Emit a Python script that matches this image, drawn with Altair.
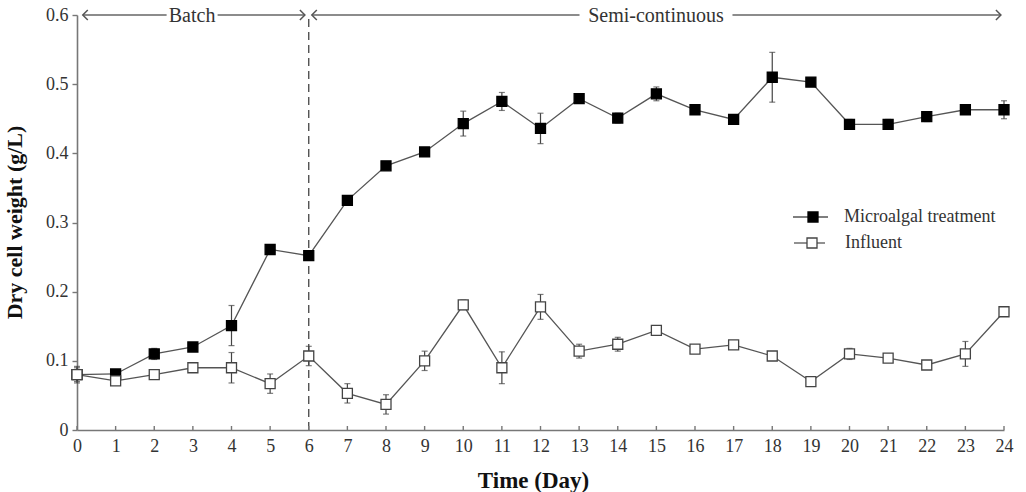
import altair as alt
import pandas as pd

# ---------------- data ----------------
days = list(range(25))
micro = [0.080, 0.081, 0.110, 0.120, 0.151, 0.261, 0.252, 0.332, 0.382, 0.402,
         0.443, 0.475, 0.436, 0.479, 0.451, 0.486, 0.463, 0.449, 0.510, 0.503,
         0.442, 0.442, 0.453, 0.463, 0.463]
micro_err = [0.010, 0.004, 0.008, 0.004, 0.029, 0.006, 0.006, 0.006, 0.006, 0.006,
             0.018, 0.013, 0.022, 0.004, 0.007, 0.010, 0.003, 0.003, 0.036, 0.006,
             0.007, 0.007, 0.007, 0.004, 0.013]
influ = [0.080, 0.071, 0.080, 0.090, 0.090, 0.067, 0.107, 0.053, 0.037, 0.100,
         0.181, 0.090, 0.178, 0.114, 0.124, 0.144, 0.117, 0.123, 0.107, 0.070,
         0.110, 0.104, 0.094, 0.110, 0.171]
influ_err = [0.012, 0.005, 0.003, 0.003, 0.022, 0.014, 0.014, 0.014, 0.014, 0.014,
             0.007, 0.023, 0.018, 0.010, 0.010, 0.004, 0.003, 0.003, 0.003, 0.003,
             0.008, 0.003, 0.003, 0.018, 0.004]
series_names = ["Microalgal treatment", "Influent"]
y_ticks = [0, 0.1, 0.2, 0.3, 0.4, 0.5, 0.6]

# phase annotations (x in days, at y = 0.6)
phase_labels = ["Batch", "Semi-continuous"]
phase_label_x = [2.98, 14.99]
phase_seg_start = [0.15, 3.64, 6.08, 16.97]
phase_seg_end = [2.32, 5.90, 13.01, 23.92]
arrow_left_x = [0.15, 6.08]
arrow_right_x = [5.90, 23.92]
switch_day = [6]

FONT = "Liberation Serif"
W, H = 927, 415
LINE = "#555555"

rows = []
for d, v, e in zip(days, micro, micro_err):
    rows.append({"day": d, "value": v, "lo": v - e, "hi": v + e, "series": series_names[0]})
for d, v, e in zip(days, influ, influ_err):
    rows.append({"day": d, "value": v, "lo": v - e, "hi": v + e, "series": series_names[1]})
df = pd.DataFrame(rows)

xs = alt.Scale(domain=[0, 24], nice=False, zero=False)
ys = alt.Scale(domain=[0, 0.6], nice=False)

x_axis = alt.Axis(values=days, tickSize=0, labelFont=FONT, labelFontSize=18,
                  labelColor="#333333", labelPadding=7, labelOverlap=False, labelFlush=False,
                  domainColor="#777777",
                  domainWidth=1.6, grid=False, title="Time (Day)", titleFont=FONT,
                  titleFontSize=23, titleFontWeight="bold", titleColor="#111111",
                  titleX=456, titleY=57, titleBaseline="alphabetic", titleAlign="center")
y_axis = alt.Axis(values=y_ticks, tickSize=5, tickColor="#777777", tickWidth=1.4,
                  labelFont=FONT, labelFontSize=18, labelColor="#333333", labelPadding=4,
                  labelOverlap=False, labelFlush=False,
                  labelExpr="datum.value == 0 ? '0' : format(datum.value, '.1f')",
                  domainColor="#777777", domainWidth=1.6, grid=False,
                  title="Dry cell weight (g/L)", titleFont=FONT, titleFontSize=22,
                  titleFontWeight="bold", titleColor="#111111", titleX=-63, titleY=207,
                  titleBaseline="middle", titleAlign="center", titleAngle=-90)


def X(field):
    return alt.X(field, type="quantitative", scale=xs, axis=x_axis)


def Y(field):
    return alt.Y(field, type="quantitative", scale=ys, axis=y_axis)


base = alt.Chart(df)

# dashed switch line
dash = alt.Chart(pd.DataFrame({"day": switch_day, "y0": [0.0], "y1": [0.6]})).mark_rule(
    color="#444444", strokeWidth=1.3, strokeDash=[8, 5]).encode(x=X("day"), y=Y("y0"), y2="y1:Q")

lines = base.mark_line(color=LINE, strokeWidth=1.3).encode(
    x=X("day"), y=Y("value"), detail="series:N")

err = base.mark_rule(color="#444444", strokeWidth=1.2).encode(
    x=X("day"), y=Y("lo"), y2="hi:Q")
cap_lo = base.mark_tick(orient="horizontal", size=6, thickness=1.2, color="#444444").encode(
    x=X("day"), y=Y("lo"))
cap_hi = base.mark_tick(orient="horizontal", size=6, thickness=1.2, color="#444444").encode(
    x=X("day"), y=Y("hi"))

pts = base.mark_point(shape="square", size=100, strokeWidth=1.3, opacity=1).encode(
    x=X("day"), y=Y("value"),
    fill=alt.Fill("series:N", scale=alt.Scale(domain=series_names, range=["#000000", "#ffffff"]), legend=None),
    stroke=alt.Stroke("series:N", scale=alt.Scale(domain=series_names, range=["#000000", "#444444"]), legend=None),
)

# inward x ticks
xticks = alt.Chart(pd.DataFrame({"day": days})).mark_rule(color="#777777", strokeWidth=1.4).encode(
    x=X("day"), y=alt.value(H), y2=alt.value(H - 4))

# phase arrows
segs = alt.Chart(pd.DataFrame({"a": phase_seg_start, "b": phase_seg_end, "y": [0.6] * 4})).mark_rule(
    color="#666666", strokeWidth=1.6).encode(x=X("a"), x2="b:Q", y=Y("y"))
left_heads = alt.Chart(pd.DataFrame({"x": arrow_left_x, "y": [0.6] * 2})).mark_point(
    shape="M1,-1 L0,0 L1,1", size=100, filled=False, stroke="#555555", strokeWidth=1.5, opacity=1
).encode(x=X("x"), y=Y("y"))
right_heads = alt.Chart(pd.DataFrame({"x": arrow_right_x, "y": [0.6] * 2})).mark_point(
    shape="M-1,-1 L0,0 L-1,1", size=100, filled=False, stroke="#555555", strokeWidth=1.5, opacity=1
).encode(x=X("x"), y=Y("y"))
phase_text = alt.Chart(pd.DataFrame({"x": phase_label_x, "y": [0.6] * 2, "t": phase_labels})).mark_text(
    font=FONT, fontSize=20, color="#333333", baseline="middle", align="center", dy=1
).encode(x=X("x"), y=Y("y"), text="t:N")

# manual legend (pixel positions inside the plot area)
leg = pd.DataFrame({"label": series_names, "py": [202, 228],
                    "lx1": [716, 717], "lx2": [751, 748], "sx": [736, 735], "tx": [767, 768]})
leg_lines = alt.Chart(leg).mark_rule(color=LINE, strokeWidth=1.3).encode(
    x=alt.X("lx1:Q", scale=None), x2="lx2:Q", y=alt.Y("py:Q", scale=None))
leg_pts = alt.Chart(leg).mark_point(shape="square", size=100, strokeWidth=1.3, opacity=1).encode(
    x=alt.X("sx:Q", scale=None), y=alt.Y("py:Q", scale=None),
    fill=alt.Fill("label:N", scale=alt.Scale(domain=series_names, range=["#000000", "#ffffff"]), legend=None),
    stroke=alt.Stroke("label:N", scale=alt.Scale(domain=series_names, range=["#000000", "#444444"]), legend=None),
)
leg_text = alt.Chart(leg).mark_text(font=FONT, fontSize=18, color="#333333", align="left",
                                    baseline="middle").encode(
    x=alt.X("tx:Q", scale=None), y=alt.Y("py:Q", scale=None), text="label:N")

chart = alt.layer(
    dash, lines, err, cap_lo, cap_hi, pts, xticks, segs, left_heads, right_heads, phase_text,
    leg_lines, leg_pts, leg_text
).properties(
    width=W, height=H,
    autosize=alt.AutoSizeParams(type="none"),
    padding={"left": 77, "top": 15, "right": 22, "bottom": 62},
    background="white",
).configure_view(stroke=None)

chart.save("out.html", embed_options={"renderer": "svg", "actions": False})
